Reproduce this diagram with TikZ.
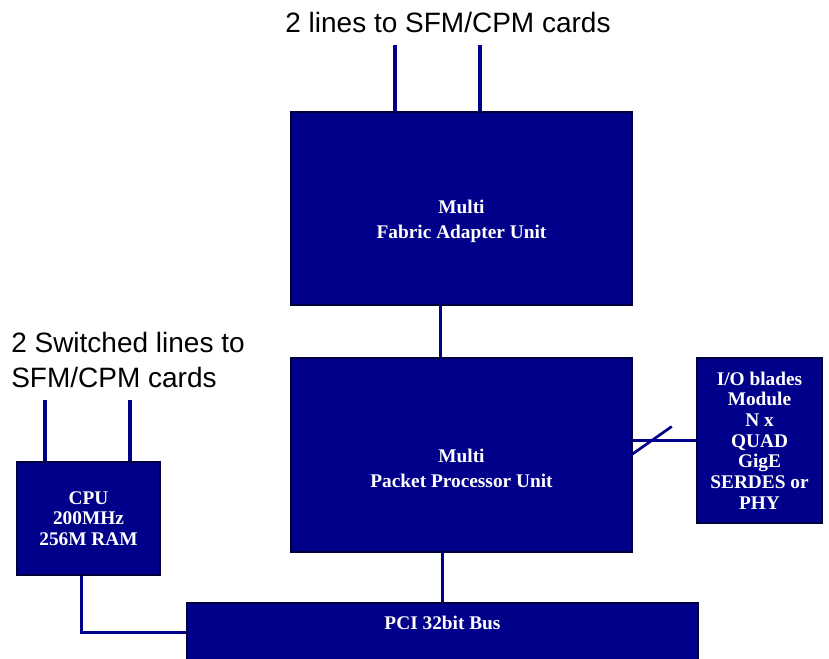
\documentclass[tikz,border=0pt]{standalone}
\usepackage{fontspec}
\setmainfont{Liberation Serif}
\newfontfamily\labelfont{Liberation Sans}
\usetikzlibrary{positioning, calc}
\definecolor{boxblue}{RGB}{0,0,139}
\definecolor{edgeblue}{RGB}{0,0,60}

\begin{document}
\begin{tikzpicture}[
    x=0.75pt, y=-0.75pt,
    unit/.style={draw=edgeblue, line width=1pt, fill=boxblue, rectangle, inner sep=0pt},
    boxtext/.style={text=white, font=\fontsize{14.5}{15.5}\selectfont\bfseries, align=center},
    wire/.style={draw=boxblue, line width=2.4pt},
    note/.style={font=\labelfont\fontsize{21}{26.25}\selectfont, align=left, inner sep=0pt}
]
\useasboundingbox[fill=white] (0,0) rectangle (829,658);

% main units
\node (fab) [unit, minimum width=255.75pt, minimum height=144.75pt,
  label={[boxtext, font=\fontsize{14.5}{18.75}\selectfont\bfseries, yshift=-10pt]center:Multi\\Fabric Adapter Unit}] at (461.5,208.5) {};
\node (pkt) [unit, minimum width=255.75pt, minimum height=145.5pt,
  label={[boxtext, font=\fontsize{14.5}{18.75}\selectfont\bfseries, yshift=-10pt]center:Multi\\Packet Processor Unit}] at (461.5,455) {};
\node (pci) [unit, minimum width=383.25pt, minimum height=57.75pt,
  label={[boxtext, anchor=north, yshift=-7pt]north:PCI 32bit Bus}] at (442.5,641.5) {};
\node (io) [unit, minimum width=93.75pt, minimum height=123.75pt, boxtext] at (759.5,440.5)
  {I/O blades\\Module\\N x\\QUAD\\GigE\\SERDES or\\PHY};
\node (cpu) [unit, minimum width=107.25pt, minimum height=84.75pt, boxtext] at (88.5,518.5)
  {CPU\\200MHz\\256M RAM};

% text labels
\node (toplbl) [note, anchor=base] at (448,32) {2 lines to SFM/CPM cards};
\node (leftlbl) [note, anchor=base west] at (11,387) {2 Switched lines to\\SFM/CPM cards};

% free ends of the card lines
\coordinate (fa) at (395,45);
\coordinate (fb) at (480,45);
\coordinate (ca) at (45,400);
\coordinate (cb) at (130,400);

\foreach \c in {fa, fb}
  \draw[wire] (\c) -- (\c |- fab.north);
\foreach \c in {ca, cb}
  \draw[wire] (\c) -- (\c |- cpu.north);

\draw[wire] ([xshift=-16pt]fab.south) -- ([xshift=-16pt]pkt.north);
\draw[wire] ([xshift=-14pt]pkt.south) -- ([xshift=-14pt]pkt.south |- pci.north);
\draw[wire] (io.west -| pkt.east) -- (io.west);
\draw[wire] ([xshift=-5pt]cpu.south) |- ([yshift=7pt]pci.west);

% bus slash
\coordinate (mid) at ($(io.west -| pkt.east)!0.3!(io.west)$);
\draw[wire, line width=2pt] ([shift={(-15pt,-10.5pt)}]mid) -- ([shift={(15pt,10.5pt)}]mid);
\end{tikzpicture}
\end{document}
